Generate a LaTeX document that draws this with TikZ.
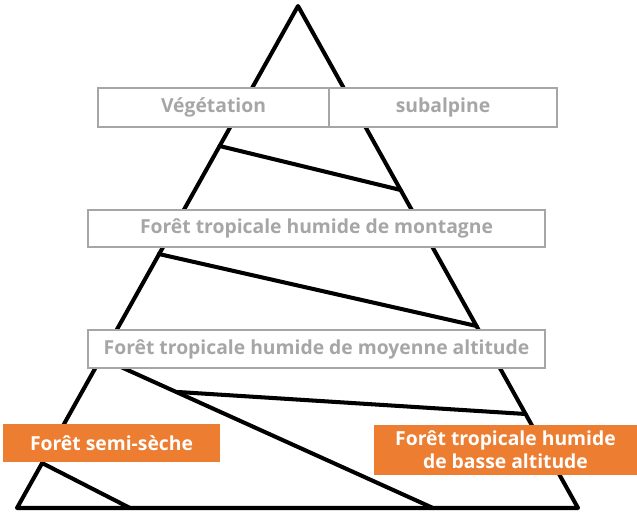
\documentclass[tikz,border=0pt]{standalone}
\usepackage{fontspec}
\setmainfont{Open Sans}
\usepackage{xcolor}
\definecolor{zonegray}{HTML}{A6A6A6}
\definecolor{zoneorange}{HTML}{ED7D31}
\tikzset{graybox/.style={draw=zonegray, line width=1.1pt, fill=white, text=zonegray,
                         inner sep=0pt, font=\bfseries\fontsize{11}{13}\selectfont},
         orangebox/.style={fill=zoneorange, text=white, inner sep=0pt, align=center,
                           font=\bfseries\fontsize{11}{13}\selectfont},
         edge/.style={line width=2.3pt, line cap=round, line join=round}}

\begin{document}
\begin{tikzpicture}[x=0.02cm, y=-0.02cm]
        \useasboundingbox (0,0) rectangle (637,513);

        % Corners of the pyramid
        \coordinate (top) at (298,6);
        \coordinate (bl) at (17,508);
        \coordinate (br) at (578,508);

        % End points of the inner lines
        \coordinate (a1) at (219.6,146);
        \coordinate (b1) at (400.6,190);
        \coordinate (a2) at (158.8,254);
        \coordinate (b2) at (476.5,326);
        \coordinate (a3) at (101,358);
        \coordinate (b3) at (433,508);
        \coordinate (a4) at (178,392);
        \coordinate (b4) at (525.6,414);
        \coordinate (a5) at (42,463);
        \coordinate (b5) at (130,508);

        % Outline of the pyramid
        \draw[edge] (top) -- (br) -- (bl) -- cycle;

        % Lines between the zones
        \draw[edge] (a1) -- (b1);
        \draw[edge] (a2) -- (b2);
        \draw[edge] (a3) -- (b3);
        \draw[edge] (a4) -- (b4);
        \draw[edge] (a5) -- (b5);

        % Gray labels
        \node[graybox, minimum width=4.62cm, minimum height=0.78cm] (veg) at (213.5,107.5) {Végétation};
        \node[graybox, minimum width=4.56cm, minimum height=0.78cm] (subalp) at (443,107.5) {subalpine};
        \node[graybox, minimum width=9.14cm, minimum height=0.74cm] (montagne) at (316.5,228.5) {Forêt tropicale humide de montagne};
        \node[graybox, minimum width=9.14cm, minimum height=0.76cm] (moyenne) at (316.5,349) {Forêt tropicale humide de moyenne altitude};

        % Orange labels
        \node[orangebox, minimum width=4.34cm, minimum height=0.76cm] (seche) at (111.5,443) {Forêt semi-sèche};
        \node[orangebox, minimum width=5.26cm, minimum height=1.0cm] (basse) at (505.5,450) {Forêt tropicale humide\\de basse altitude};

\end{tikzpicture}
\end{document}
